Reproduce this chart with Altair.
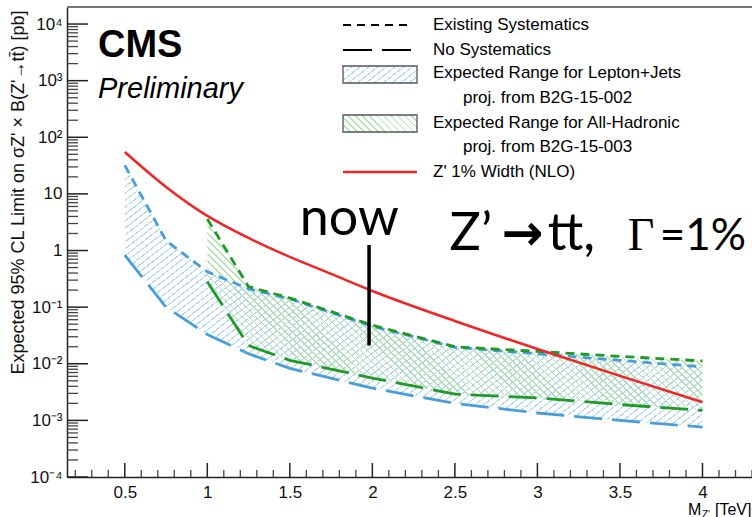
import math
import altair as alt
import pandas as pd

# ---------------- data ----------------
mass_lj = [0.5, 0.75, 1.0, 1.25, 1.5, 2.0, 2.5, 3.0, 3.5, 4.0]
lj_exist = [32, 1.5, 0.42, 0.21, 0.14, 0.046, 0.0195, 0.0150, 0.0115, 0.0088]
lj_nosys = [0.83, 0.10, 0.033, 0.015, 0.0083, 0.0037, 0.0020, 0.00135, 0.0010, 0.00076]

mass_ah = [1.0, 1.25, 1.5, 2.0, 2.5, 3.0, 3.5, 4.0]
ah_exist = [3.6, 0.23, 0.145, 0.048, 0.020, 0.0165, 0.0135, 0.0112]
ah_nosys = [0.28, 0.021, 0.0115, 0.0056, 0.0029, 0.0025, 0.0019, 0.0015]

mass_zp = [0.5, 0.75, 1.0, 1.25, 1.5, 1.75, 2.0, 2.5, 3.0, 3.5, 4.0]
zp_xsec = [55, 13.3, 4.1, 1.67, 0.77, 0.386, 0.193, 0.057, 0.0182, 0.0061, 0.0021]

now_mass = [1.98]
now_lo = [0.021]
now_hi = [1.25]

x_tick_values = [0.5, 1.0, 1.5, 2.0, 2.5, 3.0, 3.5, 4.0]
x_minor_values = [0.2, 0.3, 0.4, 0.6, 0.7, 0.8, 0.9, 1.1, 1.2, 1.3, 1.4, 1.6, 1.7, 1.8, 1.9,
                  2.1, 2.2, 2.3, 2.4, 2.6, 2.7, 2.8, 2.9, 3.1, 3.2, 3.3, 3.4, 3.6, 3.7, 3.8,
                  3.9, 4.1, 4.2, 4.3]
y_tick_values = [1e-4, 1e-3, 1e-2, 1e-1, 1, 10, 100, 1000, 10000]
y_tick_labels = ["10⁻⁴", "10⁻³", "10⁻²", "10⁻¹", "1", "10", "10²", "10³", "10⁴"]
y_minor_values = [m * 10.0 ** k for k in range(-4, 5) for m in range(2, 10) if m * 10.0 ** k < 1.95e4]

legend_labels = ["Existing Systematics", "No Systematics", "Expected Range for Lepton+Jets",
                 "proj. from B2G-15-002", "Expected Range for All-Hadronic",
                 "proj. from B2G-15-003", "Z' 1% Width (NLO)"]

# ---------------- styles ----------------
W, H = 685, 470
BLUE = "#4a9ed8"
GREEN = "#1f9a28"
RED = "#f02525"
HBLUE = "#b3d6ef"
HGREEN = "#b0dfb0"
FONT = "Liberation Sans"
SHORT = [9, 6]
LONG = [28, 10]


def hatch(bw, bh, color, direction, angle=40, spacing=5.5, lw=1.1):
    k = math.tan(math.radians(angle))
    th = math.radians(angle)
    s = (k * bw + bh) / (k * k * bw * bw + bh * bh)
    extent = bw * math.sin(th) + bh * math.cos(th)
    n = int(extent / spacing) + 1
    step = 1.0 / n
    w = step * lw / spacing
    clear = "rgba(255,255,255,0)"
    stops = []
    for i in range(n):
        a = i * step
        b = min(a + w, 1.0)
        e = min(a + step, 1.0)
        stops += [alt.GradientStop(offset=round(a, 6), color=color),
                  alt.GradientStop(offset=round(b, 6), color=color),
                  alt.GradientStop(offset=round(b, 6), color=clear),
                  alt.GradientStop(offset=round(e, 6), color=clear)]
    if direction == "/":
        return alt.LinearGradient(gradient="linear", stops=stops, x1=0, y1=0,
                                  x2=s * k * bw, y2=s * bh)
    return alt.LinearGradient(gradient="linear", stops=stops, x1=0, y1=1,
                              x2=s * k * bw, y2=1 - s * bh)


expr = ""
for i, (v, lab) in enumerate(zip(y_tick_values, y_tick_labels)):
    if i < len(y_tick_values) - 1:
        expr += f"datum.value < {v * 3} ? '{lab}' : "
    else:
        expr += f"'{lab}'"

xscale = alt.Scale(domain=[0.15, 4.3], nice=False, zero=False)
yscale = alt.Scale(type="log", domain=[1e-4, 2e4], nice=False)

xaxis = alt.Axis(values=x_tick_values, format=".1~f", ticks=False, grid=False,
                 domainColor="#222", domainWidth=1.5, labelFont=FONT, labelFontSize=17,
                 labelColor="#111", labelPadding=7, title=None, labelFlush=False)
yaxis = alt.Axis(values=y_tick_values, labelExpr=expr, ticks=False, grid=False,
                 domainColor="#222", domainWidth=1.5, labelFont=FONT, labelFontSize=17,
                 labelColor="#111", labelPadding=5, labelFlush=False,
                 title="Expected 95% CL Limit on σZ' × B(Z'→tt̄) [pb]",
                 titleFont=FONT, titleFontSize=18, titleFontWeight="normal", titleColor="#111",
                 titleAngle=270, titleX=-49, titleY=3, titleAlign="right", titleBaseline="middle")


def X(f):
    return alt.X(f, type="quantitative", scale=xscale, axis=xaxis)


def Y(f):
    return alt.Y(f, type="quantitative", scale=yscale, axis=yaxis)


lj = pd.DataFrame({"mass": mass_lj, "hi": lj_exist, "lo": lj_nosys})
ah = pd.DataFrame({"mass": mass_ah, "hi": ah_exist, "lo": ah_nosys})
zp = pd.DataFrame({"mass": mass_zp, "xs": zp_xsec})
dummy = pd.DataFrame({"a": [0]})

layers = []
layers.append(alt.Chart(lj).mark_area(color=hatch(577, 262, HBLUE, "/", angle=38)).encode(
    x=X("mass"), y=Y("hi"), y2=alt.Y2("lo")))
layers.append(alt.Chart(ah).mark_area(color=hatch(494, 191, HGREEN, "\\", angle=45, spacing=5)).encode(
    x=X("mass"), y=Y("hi"), y2=alt.Y2("lo")))

# inward ticks
layers.append(alt.Chart(pd.DataFrame({"v": y_tick_values})).mark_rule(color="#222", strokeWidth=1.5).encode(
    y=Y("v"), x=alt.value(0), x2=alt.value(21)))
layers.append(alt.Chart(pd.DataFrame({"v": y_minor_values})).mark_rule(color="#444", strokeWidth=1.3).encode(
    y=Y("v"), x=alt.value(0), x2=alt.value(11)))
layers.append(alt.Chart(pd.DataFrame({"v": x_tick_values})).mark_rule(color="#222", strokeWidth=1.5).encode(
    x=X("v"), y=alt.value(H), y2=alt.value(H - 14)))
layers.append(alt.Chart(pd.DataFrame({"v": x_minor_values})).mark_rule(color="#444", strokeWidth=1.3).encode(
    x=X("v"), y=alt.value(H), y2=alt.value(H - 7)))
layers.append(alt.Chart(dummy).mark_rule(color="#777", strokeWidth=2).encode(
    x=alt.value(0), x2=alt.value(W), y=alt.value(0)))

# curves
layers.append(alt.Chart(lj).mark_line(color=BLUE, strokeWidth=2.8, strokeDash=LONG).encode(x=X("mass"), y=Y("lo")))
layers.append(alt.Chart(lj).mark_line(color=BLUE, strokeWidth=2.8, strokeDash=SHORT).encode(x=X("mass"), y=Y("hi")))
layers.append(alt.Chart(ah).mark_line(color=GREEN, strokeWidth=2.8, strokeDash=LONG).encode(x=X("mass"), y=Y("lo")))
layers.append(alt.Chart(ah).mark_line(color=GREEN, strokeWidth=2.8, strokeDash=SHORT).encode(x=X("mass"), y=Y("hi")))
layers.append(alt.Chart(zp).mark_line(color=RED, strokeWidth=2.5, interpolate="monotone").encode(x=X("mass"), y=Y("xs")))

# "now" marker
nowdf = pd.DataFrame({"mass": now_mass, "lo": now_lo, "hi": now_hi})
layers.append(alt.Chart(nowdf).mark_rule(color="black", strokeWidth=3.5).encode(
    x=X("mass"), y=Y("hi"), y2=alt.Y2("lo")))

ann = pd.DataFrame({
    "mass": [1.86, 2.468, 2.783, 3.062, 3.547, 3.741],
    "val": [1.9, 1.02, 1.02, 1.02, 1.02, 1.02],
})


def ann_text(i, s, font, size, align="left", weight="normal", dy=0):
    return alt.Chart(ann.iloc[[i]]).mark_text(text=s, font=font, fontSize=size, align=align,
                                              baseline="alphabetic", color="black",
                                              fontWeight=weight, dy=dy).encode(x=X("mass"), y=Y("val"))


layers.append(ann_text(0, "now", "Lato", 52, align="center"))
layers.append(ann_text(1, "Z’", "Lato", 52))
layers.append(ann_text(2, "→", "DejaVu Sans", 50, weight="bold"))
layers.append(ann_text(3, "tt,", "Lato", 52))
layers.append(ann_text(4, "Γ", "Liberation Serif", 46))
layers.append(ann_text(5, "=1%", "Lato", 44))


def txt(s, x, y, size, font=FONT, align="left", baseline="middle", **kw):
    return alt.Chart(dummy).mark_text(text=s, font=font, fontSize=size, align=align,
                                      baseline=baseline, color="black", **kw).encode(
        x=alt.value(x), y=alt.value(y))


# CMS label
layers.append(txt("CMS", 31, 50, 38, baseline="alphabetic", fontWeight="bold"))
layers.append(txt("Preliminary", 31, 91, 29, baseline="alphabetic", fontStyle="italic"))

# x-axis title
layers.append(txt("M", 621, 508, 16, baseline="alphabetic"))
layers.append(txt("Z'", 635, 511, 10, baseline="alphabetic"))
layers.append(txt("[TeV]", 648, 508, 16, baseline="alphabetic"))

# legend
LX0, LX1 = 276, 345
layers.append(alt.Chart(dummy).mark_rule(color="black", strokeWidth=2, strokeDash=[8, 6]).encode(
    x=alt.value(LX0), x2=alt.value(LX1), y=alt.value(18)))
layers.append(alt.Chart(dummy).mark_rule(color="black", strokeWidth=2, strokeDash=[29, 10]).encode(
    x=alt.value(LX0), x2=alt.value(LX1), y=alt.value(43)))
layers.append(alt.Chart(dummy).mark_rect(color=hatch(74, 17, HBLUE, "/", angle=38), stroke="#555",
                                         strokeWidth=1.3).encode(
    x=alt.value(276), x2=alt.value(350), y=alt.value(59), y2=alt.value(76)))
layers.append(alt.Chart(dummy).mark_rect(color=hatch(74, 17, HGREEN, "\\", angle=45, spacing=5), stroke="#555",
                                         strokeWidth=1.3).encode(
    x=alt.value(276), x2=alt.value(350), y=alt.value(108), y2=alt.value(125)))
layers.append(alt.Chart(dummy).mark_rule(color=RED, strokeWidth=2.5).encode(
    x=alt.value(276), x2=alt.value(350), y=alt.value(165)))

leg_x = [366, 366, 366, 396, 366, 396, 366]
leg_y = [18, 43, 66, 91, 116, 140, 165]
for lab, lx, ly in zip(legend_labels, leg_x, leg_y):
    layers.append(txt(lab, lx, ly, 17))

chart = alt.layer(*layers).properties(
    width=W, height=H,
    autosize=alt.AutoSizeParams(type="none"),
    padding={"left": 67, "top": 7, "right": 0, "bottom": 40},
    background="white",
).configure_view(stroke=None)

chart.save("out.html", embed_options={"renderer": "svg", "actions": False})
